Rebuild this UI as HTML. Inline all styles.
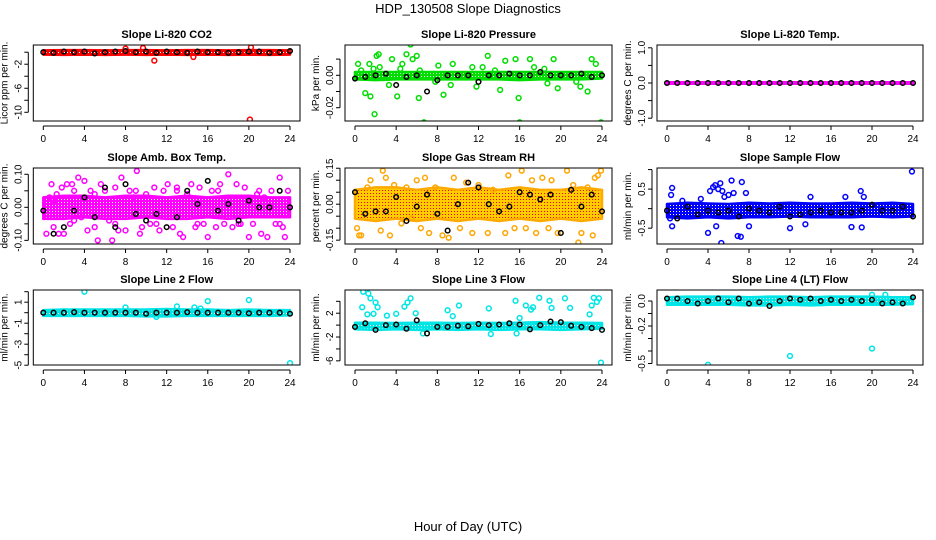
<!DOCTYPE html>
<html><head><meta charset="utf-8">
<style>
body{margin:0;background:#fff;}
svg{display:block;font-family:"Liberation Sans",sans-serif;}
.t{font-weight:bold;font-size:11px;}
.tk{font-size:10px;}
</style></head>
<body>
<svg id="c" width="936" height="540" viewBox="0 0 936 540">
<text x="468" y="13" text-anchor="middle" font-size="13">HDP_130508  Slope Diagnostics</text>
<text x="468" y="531" text-anchor="middle" font-size="13">Hour of Day (UTC)</text>
</svg>
<script>
// ---- data ----
const xTicks=[0,4,8,12,16,20,24];
const titles=["Slope Li-820 CO2","Slope Li-820 Pressure","Slope Li-820 Temp.","Slope Amb. Box Temp.","Slope Gas Stream RH","Slope Sample Flow","Slope Line 2 Flow","Slope Line 3 Flow","Slope Line 4 (LT) Flow"];
const yTitles=["Licor ppm per min.","kPa per min.","degrees C per min.","degrees C per min.","percent per min.","ml/min per min.","ml/min per min.","ml/min per min.","ml/min per min."];
const yTickVals=[[0,-2,-4,-6,-8,-10],[0.01,0,-0.01,-0.02],[1,0.5,0,-0.5,-1],[0.1,0.05,0,-0.05,-0.1],[0.15,0.1,0.05,0,-0.05,-0.1,-0.15],[1,0.5,0,-0.5],[2,1,0,-1,-2,-3,-4,-5],[4,2,0,-2,-4,-6],[0,-0.1,-0.2,-0.3,-0.4,-0.5]];
const yTickLabels=[["","-2","","-6","","-10"],["","0.00","","-0.02"],["1.0","","0.0","","-1.0"],["0.10","","0.00","","-0.10"],["0.15","","","0.00","","","-0.15"],["","0.5","","-0.5"],["","1","","-1","","-3","","-5"],["","2","","-2","","-6"],["0.0","","-0.2","","","-0.5"]];
const yDomains=[[1.2,-11.45],[0.0187,-0.0282],[1.08,-1.08],[0.119,-0.111],[0.151,-0.166],[1.04,-0.905],[2.16,-4.98],[5.9,-6.7],[0.088,-0.512]];
const colors=["#ff0000","#00dd00","#ff00ff","#ff00ff","#ffa500","#0000ff","#00e5e5","#00e5e5","#00e5e5"];
// band extent every 2 hours (13 values)
const bandHi=[[0.3,0.35,0.35,0.3,0.35,0.35,0.3,0.35,0.35,0.3,0.35,0.35,0.3],
[0.002,0.002,0.002,0.002,0.002,0.002,0.002,0.002,0.002,0.002,0.002,0.002,0.002],
[0.02,0.02,0.02,0.02,0.02,0.02,0.02,0.02,0.02,0.02,0.02,0.02,0.02],
[0.03,0.035,0.035,0.03,0.035,0.035,0.03,0.035,0.03,0.035,0.035,0.03,0.03],
[0.06,0.07,0.07,0.06,0.07,0.06,0.07,0.06,0.07,0.06,0.06,0.07,0.06],
[0.12,0.15,0.13,0.12,0.15,0.13,0.15,0.13,0.13,0.15,0.13,0.15,0.12],
[0.25,0.3,0.3,0.3,0.3,0.3,0.35,0.3,0.3,0.25,0.3,0.25,0.25],
[0.4,0.4,0.35,0.4,0.4,0.35,0.4,0.35,0.4,0.5,0.4,0.4,0.35],
[0.03,0.035,0.035,0.035,0.03,0.035,0.035,0.03,0.035,0.035,0.035,0.03,0.03]];
const bandLo=[[-0.4,-0.45,-0.4,-0.45,-0.4,-0.45,-0.4,-0.45,-0.4,-0.45,-0.4,-0.45,-0.4],
[-0.0025,-0.003,-0.0025,-0.0025,-0.0025,-0.0025,-0.0025,-0.0025,-0.003,-0.0025,-0.0025,-0.0025,-0.002],
[-0.02,-0.02,-0.02,-0.02,-0.02,-0.02,-0.02,-0.02,-0.02,-0.02,-0.02,-0.02,-0.02],
[-0.035,-0.035,-0.03,-0.035,-0.035,-0.03,-0.035,-0.035,-0.03,-0.035,-0.03,-0.03,-0.03],
[-0.06,-0.07,-0.06,-0.07,-0.06,-0.07,-0.06,-0.07,-0.06,-0.07,-0.06,-0.07,-0.06],
[-0.22,-0.25,-0.22,-0.25,-0.22,-0.22,-0.2,-0.22,-0.22,-0.22,-0.2,-0.22,-0.2],
[-0.3,-0.3,-0.3,-0.3,-0.3,-0.35,-0.35,-0.3,-0.3,-0.3,-0.3,-0.3,-0.25],
[-0.7,-0.8,-0.7,-0.8,-0.7,-0.8,-0.7,-0.8,-0.7,-0.7,-0.8,-0.7,-0.6],
[-0.03,-0.03,-0.03,-0.03,-0.035,-0.035,-0.03,-0.035,-0.03,-0.03,-0.03,-0.03,-0.025]];
// outlier points [hour, value]
const outliers=[
[[10.8,-1.4],[20.1,-11.2],[20.2,0.8],[14.6,-0.8],[8,0.6],[9.7,0.7]],
[[0.3,0.007],[0.6,0.003],[1.0,-0.011],[1.4,0.007],[1.5,-0.013],[1.8,0.004],[1.9,-0.024],[2.1,0.012],[2.3,0.013],[2.4,0.005],[3.3,-0.006],[3.6,0.010],[4.1,-0.013],[4.4,0.004],[4.6,0.007],[5.0,0.013],[5.4,0.019],[5.6,0.010],[6.0,0.012],[6.3,0.003],[6.2,-0.014],[6.7,-0.029],[7.8,-0.004],[8.1,0.006],[8.6,-0.012],[9.3,-0.006],[9.5,0.007],[11.4,0.005],[11.8,-0.007],[12.4,0.005],[12.9,0.012],[13.6,0.003],[14.1,-0.009],[14.6,0.009],[15.6,0.010],[15.9,-0.014],[16.0,-0.029],[17.0,0.010],[17.4,0.005],[18.4,0.004],[18.7,-0.005],[19.3,0.010],[19.7,-0.008],[21.5,-0.004],[21.9,-0.007],[22.6,-0.010],[23.0,0.010],[23.4,0.007],[23.9,-0.029]],
[],
[[0.3,-0.08],[0.6,0.03],[0.8,0.07],[1.0,-0.06],[1.3,0.04],[1.5,-0.08],[1.8,0.06],[2.0,-0.08],[2.3,0.07],[2.6,-0.05],[2.8,0.07],[3.0,0.05],[3.4,0.09],[3.7,-0.03],[4.0,0.08],[4.3,-0.07],[4.6,0.05],[5.0,-0.06],[5.3,-0.10],[5.6,0.07],[6.0,0.05],[6.4,-0.04],[6.7,-0.10],[7.0,0.06],[7.3,-0.07],[7.6,0.09],[8.0,-0.07],[8.4,0.05],[8.8,0.03],[9.1,0.11],[9.4,-0.08],[9.6,-0.06],[10.0,0.04],[10.4,-0.05],[10.8,0.06],[11.3,-0.07],[11.7,0.05],[12.1,0.07],[12.6,-0.06],[13.0,0.06],[13.3,-0.08],[13.6,-0.09],[14.0,0.04],[14.4,0.07],[14.8,-0.06],[15.2,0.06],[15.6,-0.05],[16.0,-0.09],[16.4,0.05],[16.8,-0.06],[17.2,0.07],[17.6,-0.05],[18.0,0.10],[18.4,-0.06],[18.8,0.07],[19.2,-0.05],[19.6,0.06],[20.0,-0.09],[20.4,-0.05],[20.8,0.04],[21.2,-0.08],[21.5,0.03],[21.8,-0.09],[22.2,0.05],[22.6,-0.05],[23.0,0.09],[23.3,-0.06],[23.5,-0.09],[23.8,0.05],[1.0,0.02],[3.0,-0.04],[5.0,0.04],[7.0,-0.05],[9.0,0.05],[11.0,-0.05],[13.0,0.05],[15.0,-0.05],[17.0,0.05],[19.0,-0.05],[21.0,0.05],[23.0,-0.05]],
[[0.2,-0.1],[0.4,-0.13],[0.6,-0.13],[1.2,0.07],[1.5,0.1],[2.5,-0.11],[2.7,0.14],[3.0,0.11],[3.4,-0.13],[3.8,0.08],[4.5,-0.08],[5.0,0.07],[5.5,-0.06],[6.0,0.1],[6.4,-0.1],[6.8,0.11],[7.2,-0.12],[7.8,0.07],[8.5,-0.13],[9.1,-0.14],[9.6,0.11],[10.2,-0.1],[10.8,0.09],[11.4,-0.12],[12.0,0.08],[12.9,-0.12],[13.4,0.06],[14.6,-0.12],[14.9,0.12],[15.5,-0.1],[16.2,0.14],[16.6,-0.1],[17.2,0.1],[17.6,-0.12],[18.2,0.11],[18.8,-0.1],[19.1,0.1],[19.7,-0.12],[20.6,0.14],[21.2,0.08],[21.7,-0.16],[22.0,-0.12],[22.6,0.07],[23.1,-0.13],[23.3,0.11],[23.6,0.12],[23.9,0.14]],
[[0.3,-0.25],[0.4,0.35],[0.5,0.53],[0.5,-0.45],[1.5,0.2],[3.3,0.25],[4.0,-0.62],[4.2,0.45],[4.5,0.55],[4.7,0.6],[4.8,-0.45],[5.0,0.5],[5.2,0.65],[5.3,-0.88],[5.4,0.45],[5.6,0.3],[6.0,0.35],[6.3,0.72],[6.5,0.4],[6.9,-0.7],[7.2,-0.72],[7.3,0.68],[7.7,0.4],[8.0,-0.45],[12.0,-0.5],[13.5,-0.4],[14.0,0.3],[17.4,0.3],[18.0,-0.47],[18.9,0.45],[19.0,-0.48],[19.2,0.3],[23.9,0.95]],
[[4.0,2.0],[16.0,1.1],[20.0,1.2],[24.0,-4.8],[11.0,-0.4],[13.0,0.6],[14.7,0.5],[8.0,0.5],[15.3,0.4]],
[[0.8,5.6],[0.7,3.0],[1.3,5.3],[1.5,4.5],[1.2,1.8],[2.0,3.8],[2.2,3.0],[1.8,1.9],[3.1,1.6],[4.0,1.9],[4.8,3.1],[5.1,3.8],[5.4,4.5],[5.9,2.0],[6.6,-1.4],[9.0,2.5],[9.5,1.5],[10.1,3.3],[13.0,2.8],[13.2,-1.5],[15.6,4.1],[15.7,-1.4],[16.0,1.2],[16.6,3.3],[17.1,2.6],[17.3,3.0],[17.9,4.6],[18.9,4.1],[19.1,2.9],[20.4,4.5],[20.9,2.9],[22.8,1.8],[23.0,3.3],[23.2,4.6],[23.5,3.9],[23.7,4.5],[23.9,-6.3]],
[[4.0,-0.51],[12.0,-0.44],[20.0,-0.38],[20.0,0.05],[21.3,0.05]]];
// black points, hourly (25 values)
const black=[
[0.0,-0.1,0.1,0.0,0.1,-0.2,0.0,0.1,0.2,0.0,0.1,-0.1,0.1,0.0,-0.1,0.1,0.0,0.0,-0.1,0.0,0.1,0.1,-0.1,0.0,0.2],
[-0.002,-0.001,0.000,0.001,-0.006,-0.001,0.0,-0.010,-0.003,0.0,0.0,0.0,-0.004,0.0,0.0,0.001,0.0,0.0,0.002,0.0,0.0,0.0,0.001,-0.001,0.0],
[0,0,0,0,0,0,0,0,0,0,0,0,0,0,0,0,0,0,0,0,0,0,0,0,0],
[-0.01,-0.08,-0.06,-0.01,0.03,-0.03,0.06,-0.06,0.07,-0.02,-0.04,-0.02,-0.06,-0.03,0.05,0.01,0.08,-0.01,0.01,-0.04,0.02,0.00,0.00,0.05,0.00],
[0.05,-0.04,-0.03,-0.03,0.03,-0.07,-0.01,0.04,-0.04,-0.11,0.0,0.09,0.07,0.0,-0.03,-0.01,0.05,0.04,0.02,0.04,-0.12,0.06,-0.01,0.04,-0.03],
[-0.05,-0.25,0.05,-0.15,-0.05,-0.1,-0.05,-0.2,0.0,-0.05,-0.1,0.05,-0.2,-0.15,-0.1,-0.05,-0.1,-0.1,-0.1,-0.05,0.1,-0.05,-0.05,0.05,-0.2],
[0.0,0.0,0.0,0.05,0.0,0.0,0.0,0.0,0.0,0.0,-0.1,0.0,0.0,0.0,0.05,0.0,0.0,0.0,0.0,0.0,-0.05,0.0,0.0,0.0,-0.1],
[-0.3,0.3,-0.8,0.0,0.1,-0.6,0.8,-1.4,-0.3,-0.3,-0.1,-0.2,0.2,0.0,0.1,0.3,0.1,-0.7,0.0,0.6,0.5,-0.1,-0.3,-0.5,-0.8],
[0.02,0.02,0.0,-0.02,0.0,0.02,-0.01,0.02,-0.02,-0.01,-0.04,0.0,0.02,0.01,0.02,0.0,0.01,0.0,0.01,0.0,0.01,-0.02,-0.01,-0.02,0.03]];
// ---- layout ----
const colX0=[43.3,355,667], colPx=[246.7,247,246];
const rowTop=[45,168,290], rowBot=[121,244,365];
const NS="http://www.w3.org/2000/svg";
const svg=document.getElementById('c');
function mk(tag,attrs,parent){const e=document.createElementNS(NS,tag);for(const k in attrs)e.setAttribute(k,attrs[k]);(parent||svg).appendChild(e);return e;}
const defs=mk('defs',{});
for(let p=0;p<9;p++){
  const pat=mk('pattern',{id:'pt'+p,width:3,height:3,patternUnits:'userSpaceOnUse'},defs);
  mk('rect',{width:3,height:3,fill:p===4?'#ffcc00':colors[p]},pat);
  mk('rect',{x:1,y:1,width:1,height:1,fill:p===4?'#ff0000':'#ffffff'},pat);
}
for(let p=0;p<9;p++){
  const col=p%3,row=Math.floor(p/3);
  const x0=colX0[col],xw=colPx[col],top=rowTop[row],bot=rowBot[row];
  const left=x0-10,right=x0+xw+10;
  const dom=yDomains[p];
  const sx=h=>x0+h/24*xw;
  const sy=v=>top+(dom[0]-v)/(dom[0]-dom[1])*(bot-top);
  const g=mk('g',{});
  
  
  const t=mk('text',{x:(left+right)/2,y:top-7,'text-anchor':'middle',class:'t'},g);
  t.textContent=titles[p];
  
  
  const yt=mk('text',{transform:`translate(${left-26},${(top+bot)/2}) rotate(-90)`,'text-anchor':'middle',class:'tk'},g);
  yt.textContent=yTitles[p];
  
  
  const cid='cl'+p;
  const cp=mk('clipPath',{id:cid},g);mk('rect',{x:left,y:top,width:right-left,height:bot-top},cp);
  const pg=mk('g',{'clip-path':`url(#${cid})`},g);
  const c=colors[p];
  let pts=[];
  bandHi[p].forEach((v,i)=>pts.push(sx(i*2)+','+sy(v)));
  for(let i=bandLo[p].length-1;i>=0;i--)pts.push(sx(i*2)+','+sy(bandLo[p][i]));
  const band=mk('polygon',{points:pts.join(' '),fill:`url(#pt${p})`,stroke:p===4?'#ffaa00':c,'stroke-width':2.5,'stroke-linejoin':'round'},pg);
  
  
  outliers[p].forEach(o=>{
    const ci=mk('circle',{cx:sx(o[0]),cy:sy(o[1]),r:2.4,fill:'none',stroke:c,'stroke-width':1.5},pg);
    
    
  });
  black[p].forEach((v,i)=>{
    const ci=mk('circle',{cx:sx(i*24/(black[p].length-1)),cy:sy(v),r:2.3,fill:'none',stroke:'#000','stroke-width':1.5},pg);
    
    
  });
  const bx=mk('rect',{x:left,y:top,width:right-left,height:bot-top,fill:'none',stroke:'#000','stroke-width':1},g);
  
  
  mk('line',{x1:sx(0),x2:sx(24),y1:bot+5,y2:bot+5,stroke:'#000'},g);
  xTicks.forEach(h=>{
    mk('line',{x1:sx(h),x2:sx(h),y1:bot+5,y2:bot+9,stroke:'#000'},g);
    const l=mk('text',{x:sx(h),y:bot+21,'text-anchor':'middle',class:'tk'},g);
    l.textContent=h;
    
    
  });
  const yv=yTickVals[p];
  mk('line',{x1:left-5,x2:left-5,y1:sy(yv[0]),y2:sy(yv[yv.length-1]),stroke:'#000'},g);
  yv.forEach((v,i)=>{
    mk('line',{x1:left-9,x2:left-5,y1:sy(v),y2:sy(v),stroke:'#000'},g);
    if(yTickLabels[p][i]){
      const l=mk('text',{transform:`translate(${left-12},${sy(v)}) rotate(-90)`,'text-anchor':'middle',class:'tk'},g);
      l.textContent=yTickLabels[p][i];
      
      
    }
  });
}
</script>
</body></html>
